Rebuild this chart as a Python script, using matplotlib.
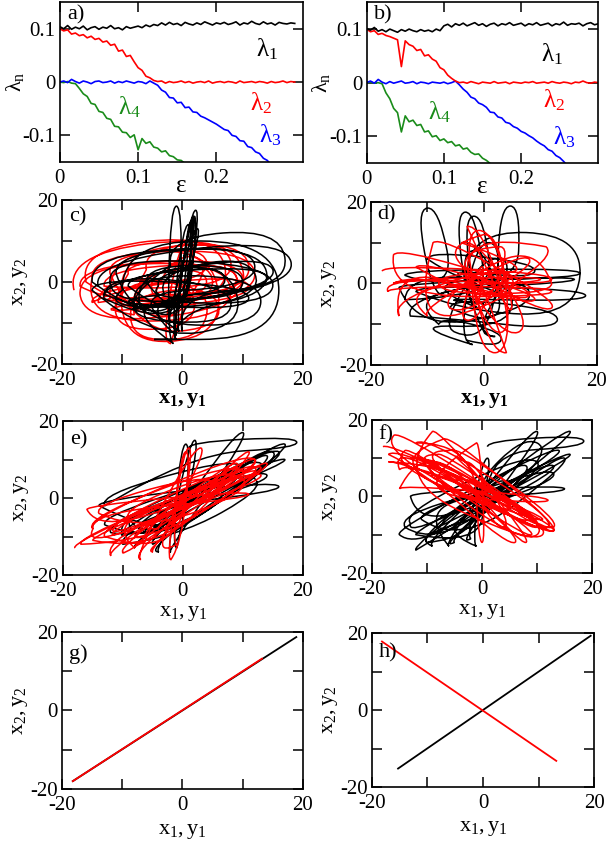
import numpy as np
import matplotlib
matplotlib.use("Agg")
import matplotlib.pyplot as plt
from matplotlib.path import Path
from matplotlib.patches import PathPatch

plt.rcParams['font.family'] = ['Liberation Serif', 'DejaVu Serif']
plt.rcParams['mathtext.fontset'] = 'custom'
plt.rcParams['mathtext.rm'] = 'Liberation Serif'
plt.rcParams['mathtext.it'] = 'Liberation Serif:italic'
plt.rcParams['mathtext.bf'] = 'Liberation Serif:bold'

# ---- Lyapunov exponents, eps step 0.005 ----
step = 0.005

a_l1 = [0.104,0.100,0.106,0.099,0.103,0.100,0.105,0.098,0.102,0.104,0.099,0.103,0.101,0.106,0.100,0.102,0.098,0.104,0.101,0.103,
        0.105,0.102,0.107,0.104,0.108,0.106,0.111,0.107,0.112,0.108,0.110,0.106,0.112,0.109,0.107,0.111,0.108,0.113,0.110,0.107,
        0.111,0.109,0.112,0.108,0.110,0.113,0.107,0.111,0.109,0.114,0.110,0.108,0.113,0.109,0.111,0.107,0.112,0.110,0.109,0.111,0.110]
a_l2 = [0.100,0.096,0.098,0.090,0.092,0.087,0.089,0.083,0.086,0.080,0.082,0.075,0.077,0.069,0.071,0.058,0.060,0.048,0.050,0.038,
        0.027,0.022,0.011,0.008,0.003,0.001,0.002,-0.002,0.001,-0.001,0.000,0.002,-0.001,0.001,-0.002,0.000,0.001,-0.001,0.002,-0.002,
        0.000,0.001,-0.001,0.001,0.000,-0.002,0.002,-0.001,0.000,0.001,-0.001,0.001,0.000,-0.002,0.001,-0.001,0.000,0.002,-0.001,0.001,0.000]
a_l3 = [0.000,0.002,-0.001,0.005,0.001,-0.002,0.002,0.000,-0.003,0.001,0.002,-0.001,0.000,0.002,-0.002,0.001,-0.001,0.002,0.000,-0.002,
        0.001,0.000,-0.003,0.002,-0.002,-0.006,-0.015,-0.019,-0.029,-0.030,-0.039,-0.038,-0.048,-0.047,-0.056,-0.057,-0.064,-0.067,-0.071,-0.075,
        -0.079,-0.084,-0.089,-0.091,-0.100,-0.102,-0.110,-0.111,-0.121,-0.123,-0.131,-0.134,-0.143,-0.147,-0.156]
a_l4 = [0.000,-0.001,0.001,-0.002,-0.003,-0.012,-0.022,-0.027,-0.040,-0.042,-0.055,-0.057,-0.068,-0.070,-0.083,-0.084,-0.094,-0.095,-0.104,-0.099,
        -0.127,-0.106,-0.115,-0.112,-0.122,-0.124,-0.131,-0.129,-0.138,-0.140,-0.146,-0.147,-0.153,-0.157]

b_l1 = [0.101,0.098,0.103,0.096,0.099,0.095,0.100,0.097,0.094,0.099,0.096,0.100,0.097,0.095,0.099,0.096,0.098,0.095,0.100,0.097,
        0.106,0.109,0.104,0.110,0.107,0.111,0.106,0.109,0.112,0.107,0.110,0.105,0.109,0.111,0.106,0.110,0.108,0.112,0.107,0.109,
        0.111,0.106,0.110,0.108,0.112,0.107,0.109,0.111,0.106,0.110,0.108,0.113,0.107,0.110,0.109,0.111,0.106,0.110,0.112,0.108,0.110]
b_l2 = [0.100,0.095,0.097,0.090,0.092,0.088,0.086,0.083,0.080,0.030,0.078,0.071,0.068,0.060,0.062,0.050,0.052,0.044,0.040,0.028,
        0.024,0.014,0.008,0.003,0.000,0.001,-0.001,0.002,0.000,-0.002,0.001,0.000,-0.001,0.002,-0.001,0.000,0.001,-0.002,0.001,0.000,
        -0.001,0.001,0.000,0.002,-0.001,0.000,0.001,-0.001,0.002,0.000,-0.001,0.001,0.000,-0.002,0.001,0.000,0.003,0.000,-0.001,0.001,0.000]
b_l3 = [0.000,0.003,-0.001,0.006,0.001,-0.002,0.002,-0.001,0.001,0.003,-0.001,0.000,0.002,-0.002,0.001,0.000,-0.002,0.001,0.000,-0.001,
        0.001,-0.002,0.000,0.003,-0.004,-0.012,-0.018,-0.027,-0.030,-0.038,-0.041,-0.046,-0.055,-0.056,-0.064,-0.066,-0.074,-0.076,-0.082,-0.085,
        -0.091,-0.094,-0.099,-0.103,-0.109,-0.114,-0.118,-0.125,-0.128,-0.136,-0.140,-0.147,-0.155]
b_l4 = [0.000,0.001,-0.001,0.000,-0.002,-0.019,-0.030,-0.048,-0.056,-0.092,-0.062,-0.073,-0.070,-0.080,-0.078,-0.092,-0.090,-0.101,-0.099,-0.108,
        -0.105,-0.112,-0.110,-0.118,-0.116,-0.124,-0.122,-0.130,-0.134,-0.133,-0.141,-0.145,-0.151]

# ---- phase portraits: loops (xa, ya, xb, yb, half width) ----
c_black = [(-14,-1,18,5,6),(-12,1,15,-1,5),(-1.5,-15,-1,18.5,1.0),(-15,0,14,2,7),(-10,-2,16,-2,12),
           (-1,-14,2.2,17.5,0.8),(-8,-4,13,-5,6),(-11,2,12,4,5),(-0.5,-12,1.5,15,0.6),(-6,0,10,0,4),
           (-4,-1,7,1,3),(-2,-10,2.5,13,0.7),(-13,-3,8,-6,5),(-2,4,17,6,7),(0,-12,2,16,0.5),
           (-9,-1,14,1,3),(-1,-13,1,14,0.9),(-13,-4,15,3,4),(-7,-6,9,-3,8),(-15,-2,11,-4,3),
           (-3,-3,12,2,5),(-1.2,-14,1.8,16,0.5)]
c_red = [(-18,-2,10,3,9),(-17,-3,8,-2,7),(-15,1,12,2,6),(-12,-4,6,-3,11),(-10,0,5,0,5),
         (-7,-2,9,1,4),(-5,0,4,0,3),(-14,-5,2,-6,6),(-9,2,11,4,6),(-3,-6,2,6,3),
         (-2,-15,1,10,1.5),(-16,0,7,4,8),(-11,-6,4,-8,7),(-6,3,8,5,5),(-13,-1,9,1,4),
         (-17,-1,10,1,5),(-8,-8,6,-6,5),(-12,2,4,5,4),(-15,-5,11,-1,3)]

d_black = [(-7,-3,-10,18.5,2),(-14,2,17,2.5,1.2),(-1,-6,-3.3,17.5,1.8),(-3,3,17,2,10),(-12,-2,18,-3,1.5),
           (0,-5,-1.8,16.5,1.8),(-10,6,9,3,2),(4,-3,4.7,19,1.8),(-14,-4,5,-5,6),(-2,-15,1,10,2.5),
           (-5,-12,3,6,3),(2,-13,-2,8,2.5),(-6,-6,13,-9,2.5),(-13,-8,8,-2,4),(-15,-1,16,1,0.8),
           (-8,-10,3,-14,2)]
d_red = [(-18,3,12,1,1.5),(-17,-2,12,-2,1.2),(-16,7,8,-3,2),(-15,-8,5,1,4),(-9,10,12,-6,2),
         (0,12,2,-17,3),(4,-17,-1,13,3),(-3,14,3,-12,2.5),(11,9,-6,-6,3),(12,0,-8,0,2.5),
         (-4,10,6,-12,3),(3,9,-3,-9,2),(-1,-5,3,3,1.5),(-12,4,9,-4,1.5),(-16,0,10,1,0.8),
         (-10,-8,8,6,2)]

e_black = [(1,13,19,14.5,1.5),(-13,-2,10,8,3),(-10,-10,16,12,2),(-8,-13,17,14,1.5),(-4,-14,10,17,1.2),
           (-2,-14,2,15,0.8),(-1,-13,0.5,14,0.8),(-14,-2,16,3,1.5),(-6,-9,13,9,2.5),(-12,-9,9,6,2),
           (0,-5,15,12,2),(-5,-12,14,11,1.5),(-13,-7,6,3,2),(-3,-8,12,5,3),(-10,-12,5,5,1.5),
           (-9,-6,17,10,1),(-3,-2,14,6,1.5)]
e_red = [(-18,-13,13,8,1.5),(-15,-8,12,10,2.5),(-16,-3,11,1,1),(-15,-8,10,7,3),(-12,-15,12,10,1.5),
         (-10,-14,9,9,1.2),(-7,-16,3,13,1.2),(-1,-12,0.5,12,0.8),(-2,-16,1,13,0.8),(-13,-10,8,6,2),
         (-6,-10,12,8,2),(-17,-12,6,3,1.5),(-9,-6,10,5,3.5),(-14,-4,5,4,2.5),(-8,-13,14,9,1.2),
         (-5,-14,11,12,1),(-15,-11,12,7,1),(-11,-7,13,6,1.5),(-4,-8,9,8,1)]

f_black = [(1,13,18.5,14.5,1.5),(1,1,10,14,3),(-12,-14,16,17,1.2),(-15,-10,14,12,1.5),(-13,-7,10,9,3),
           (-13,0,15,2,1),(-6,-13,10,17,1.2),(-2,-11,1,10,0.8),(-10,-12,8,8,2),(-14,-8,2,-1,3),
           (-9,-13,4,4,1.5),(-5,-12,15,10,1.5),(-11,-6,13,6,2),(-1,-13,0,3,0.6),(-12,-10,16,11,1),
           (-7,-7,13,8,1.5)]
f_red = [(-18,13,13,-9,1.5),(-16,16,10,-8,1.5),(-15,7,11,-10,3),(-9,17,8,-12,1.2),(-15,2,12,-1,1),
         (-1,14,0,-12,0.6),(-12,14,12,-8,2.5),(-6,12,13,-8,2),(-13,10,9,-6,2),(-5,4,10,-10,3),
         (-10,8,6,-12,1.5),(-17,11,5,-3,2),(-7,15,13,-9,1.5),(-3,9,4,-8,1.5),(-17,9,11,-6,1),
         (-14,12,9,-10,1.2),(-8,11,10,-7,1)]

g_black_x = [-18.2, 18.9]
g_black_y = [-18.0, 18.7]
g_red_x = [-18.2, 13.2]
g_red_y = [-18.0, 13.2]

h_black_x = [-15.3, 19.4]
h_black_y = [-15.2, 19.3]
h_red_x = [-18.2, 13.2]
h_red_y = [17.8, -13.2]


def loop_path(loops):
    verts, codes = [], []
    prev = None
    for xa, ya, xb, yb, w in loops:
        a = np.array([xa, ya], float)
        b = np.array([xb, yb], float)
        d = b - a
        n = np.array([-d[1], d[0]]) / np.hypot(d[0], d[1]) * w
        m = (a + b) / 2
        if prev is None:
            verts.append(a); codes.append(Path.MOVETO)
        else:
            verts += [prev, a]; codes += [Path.CURVE3] * 2
        verts += [a + n, m + n, b + n, b, b - n, m - n]
        codes += [Path.CURVE3] * 6
        prev = a - n
    return Path(verts, codes)


def draw_loops(ax, loops, color):
    ax.add_patch(PathPatch(loop_path(loops), fill=False, edgecolor=color, lw=1.1))


def style(ax):
    ax.tick_params(direction='in', top=True, right=True, length=7, width=1.1, labelsize=15)
    ax.tick_params(axis='x', pad=5)
    ax.tick_params(axis='y', pad=3)
    for s in ax.spines.values():
        s.set_linewidth(1.2)


def phase_axes(ax, tag, tagy, bold=False, xlaby=-0.25):
    style(ax)
    ax.set_xlim(-20, 20)
    ax.set_ylim(-20, 20)
    ax.set_xticks([-20, -10, 0, 10, 20])
    ax.set_xticklabels(['-20', '', '0', '', '20'])
    ax.set_yticks([-20, -10, 0, 10, 20])
    ax.set_yticklabels(['-20', '', '0', '', '20'])
    ax.set_ylabel(r'$\mathrm{x_2,y_2}$', fontsize=16, labelpad=0)
    if bold:
        lab = r'$\mathbf{x_1,y_1}$'
    else:
        lab = r'$\mathrm{x_1,y_1}$'
    ax.text(0.5, xlaby, lab, transform=ax.transAxes, ha='center', va='center', fontsize=16)
    ax.text(0.03, tagy, tag, transform=ax.transAxes, ha='left', va='center', fontsize=16)


fig = plt.figure(figsize=(6.1, 8.46), dpi=100)

ax_a = fig.add_axes([0.098, 0.8085, 0.398, 0.189])
ax_b = fig.add_axes([0.601, 0.8073, 0.380, 0.190])
ax_c = fig.add_axes([0.1016, 0.5697, 0.395, 0.1939])
ax_d = fig.add_axes([0.608, 0.5686, 0.3705, 0.1927])
ax_e = fig.add_axes([0.1033, 0.3203, 0.393, 0.182])
ax_f = fig.add_axes([0.6098, 0.3227, 0.3607, 0.1809])
ax_g = fig.add_axes([0.1016, 0.0674, 0.395, 0.1856])
ax_h = fig.add_axes([0.6098, 0.0697, 0.3640, 0.1820])

green = '#1a8c1a'
for ax, l1, l2, l3, l4, xmax, tag, pos, lx in [
        (ax_a, a_l1, a_l2, a_l3, a_l4, 0.31, 'a)',
         [(0.25, 0.062), (0.243, -0.040), (0.255, -0.100), (0.074, -0.047)], -0.14),
        (ax_b, b_l1, b_l2, b_l3, b_l4, 0.30, 'b)',
         [(0.226, 0.054), (0.228, -0.033), (0.241, -0.102), (0.080, -0.056)], -0.15)]:
    style(ax)
    for vals, col in [(l4, green), (l3, 'blue'), (l2, 'red'), (l1, 'black')]:
        ax.plot(np.arange(len(vals)) * step, vals, color=col, lw=1.2)
    ax.set_xlim(0, xmax)
    ax.set_ylim(-0.15, 0.15)
    ax.set_xticks([0, 0.1, 0.2])
    ax.set_xticklabels(['0', '0.1', '0.2'])
    ax.set_yticks([-0.1, 0, 0.1])
    ax.set_yticklabels(['-0.1', '0', '0.1'])
    ax.set_ylabel(r'$\mathrm{λ_n}$', fontsize=16)
    ax.yaxis.set_label_coords(lx, 0.5)
    ax.text(0.5, -0.15, 'ε', transform=ax.transAxes, ha='center', va='center', fontsize=18)
    ax.text(0.03, 0.92, tag, transform=ax.transAxes, ha='left', va='center', fontsize=16)
    for (x, y), s, col in zip(pos, ['1', '2', '3', '4'], ['black', 'red', 'blue', green]):
        ax.text(x, y, r'$\mathrm{λ_%s}$' % s, color=col, fontsize=18, ha='left', va='center')

# c) red under black, others black under red
draw_loops(ax_c, c_red, 'red')
draw_loops(ax_c, c_black, 'black')
phase_axes(ax_c, 'c)', 0.90, bold=True, xlaby=-0.22)

draw_loops(ax_d, d_black, 'black')
draw_loops(ax_d, d_red, 'red')
phase_axes(ax_d, 'd)', 0.92, bold=True, xlaby=-0.22)

draw_loops(ax_e, e_black, 'black')
draw_loops(ax_e, e_red, 'red')
phase_axes(ax_e, 'e)', 0.88, xlaby=-0.25)

draw_loops(ax_f, f_black, 'black')
draw_loops(ax_f, f_red, 'red')
phase_axes(ax_f, 'f)', 0.90, xlaby=-0.25)

ax_g.plot(g_black_x, g_black_y, color='black', lw=1.3)
ax_g.plot(g_red_x, g_red_y, color='red', lw=1.3)
phase_axes(ax_g, 'g)', 0.86, xlaby=-0.27)

ax_h.plot(h_black_x, h_black_y, color='black', lw=1.3)
ax_h.plot(h_red_x, h_red_y, color='red', lw=1.3)
phase_axes(ax_h, 'h)', 0.87, xlaby=-0.27)

fig.savefig('out.png', dpi=100)
